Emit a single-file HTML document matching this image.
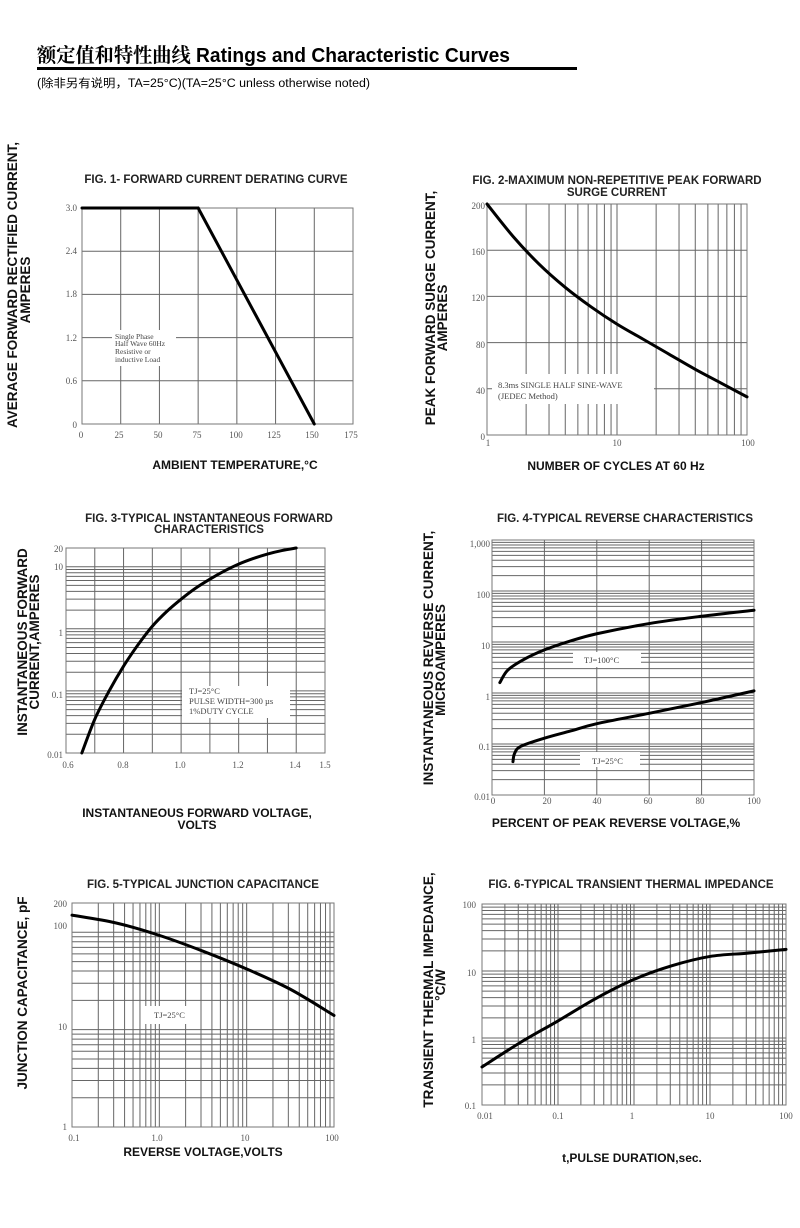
<!DOCTYPE html>
<html><head><meta charset="utf-8">
<style>
html,body{margin:0;padding:0;background:#fff;}
svg{display:block;}
.t{font-family:"Liberation Sans",Arial,sans-serif;font-weight:bold;font-size:11.5px;fill:#222;}
.ax{font-family:"Liberation Sans",Arial,sans-serif;font-weight:bold;font-size:13.5px;fill:#111;}
.xt{font-family:"Liberation Sans",Arial,sans-serif;font-weight:bold;font-size:12px;fill:#111;}
.tk{font-family:"Liberation Serif",serif;font-size:9px;fill:#555;}
.lb{font-family:"Liberation Serif",serif;font-size:8.5px;fill:#444;}
</style></head><body>
<svg id="s" width="800" height="1228" viewBox="0 0 800 1228" xmlns="http://www.w3.org/2000/svg">
<rect width="800" height="1228" fill="#fff"/>
<text x="37" y="62" textLength="473" lengthAdjust="spacingAndGlyphs" style="font-family:'Liberation Sans','Noto Serif CJK SC',serif;font-weight:bold;font-size:20px;fill:#000"><tspan style="font-family:'Noto Serif CJK SC',serif">额定值和特性曲线</tspan> Ratings and Characteristic Curves</text>
<rect x="37" y="67" width="540" height="3" fill="#000"/>
<text x="37" y="87" textLength="333" lengthAdjust="spacingAndGlyphs" style="font-family:'Liberation Sans','Noto Sans CJK SC',sans-serif;font-size:11.5px;fill:#000">(除非另有说明，TA=25°C)(TA=25°C  unless otherwise noted)</text>
<g id="grid"></g>
<g id="boxes" fill="#fff">
<rect x="112" y="330" width="64" height="36"/>
<rect x="492" y="374" width="162" height="30"/>
<rect x="182" y="686" width="108" height="32"/>
<rect x="573" y="652" width="68" height="15"/>
<rect x="580" y="752" width="60" height="15"/>
<rect x="143" y="1006" width="56" height="18"/>
</g>
<g id="frames" fill="none" stroke="#777" stroke-width="1"></g>
<g id="curves" fill="none" stroke="#000" stroke-width="3" stroke-linejoin="round" stroke-linecap="round"></g>

<!-- Fig1 -->
<text class="t" x="216" y="183" text-anchor="middle">FIG. 1- FORWARD CURRENT DERATING CURVE</text>
<g class="tk" text-anchor="end">
<text x="77" y="211">3.0</text><text x="77" y="254">2.4</text><text x="77" y="297">1.8</text><text x="77" y="341">1.2</text><text x="77" y="384">0.6</text><text x="77" y="428">0</text></g>
<g class="tk" text-anchor="middle">
<text x="81" y="438">0</text><text x="119" y="438">25</text><text x="158" y="438">50</text><text x="197" y="438">75</text><text x="236" y="438">100</text><text x="274" y="438">125</text><text x="312" y="438">150</text><text x="351" y="438">175</text></g>
<g class="lb"><text x="115" y="339" font-size="7.5">Single Phase</text><text x="115" y="346" font-size="7.5">Half Wave 60Hz</text><text x="115" y="354" font-size="7.5">Resistive or</text><text x="115" y="362" font-size="7.5">inductive Load</text></g>
<text class="xt" x="235" y="469" text-anchor="middle">AMBIENT TEMPERATURE,°C</text>
<text class="ax" transform="translate(17,285) rotate(-90)" text-anchor="middle">AVERAGE FORWARD RECTIFIED CURRENT,</text>
<text class="ax" transform="translate(30,290) rotate(-90)" text-anchor="middle">AMPERES</text>

<!-- Fig2 -->
<text class="t" x="617" y="184" text-anchor="middle">FIG. 2-MAXIMUM NON-REPETITIVE PEAK FORWARD</text>
<text class="t" x="617" y="196" text-anchor="middle">SURGE CURRENT</text>
<g class="tk" text-anchor="end">
<text x="485" y="209">200</text><text x="485" y="255">160</text><text x="485" y="301">120</text><text x="485" y="348">80</text><text x="485" y="394">40</text><text x="485" y="440">0</text></g>
<g class="tk" text-anchor="middle"><text x="488" y="446">1</text><text x="617" y="446">10</text><text x="748" y="446">100</text></g>
<g class="lb"><text x="498" y="388">8.3ms SINGLE HALF SINE-WAVE</text><text x="498" y="399">(JEDEC Method)</text></g>
<text class="xt" x="616" y="470" text-anchor="middle">NUMBER OF CYCLES AT 60 Hz</text>
<text class="ax" transform="translate(435,308) rotate(-90)" text-anchor="middle">PEAK  FORWARD SURGE CURRENT,</text>
<text class="ax" transform="translate(447,318) rotate(-90)" text-anchor="middle">AMPERES</text>

<!-- Fig3 -->
<text class="t" x="209" y="522" text-anchor="middle">FIG. 3-TYPICAL INSTANTANEOUS FORWARD</text>
<text class="t" x="209" y="533" text-anchor="middle">CHARACTERISTICS</text>
<g class="tk" text-anchor="end">
<text x="63" y="552">20</text><text x="63" y="570">10</text><text x="63" y="636">1</text><text x="63" y="698">0.1</text><text x="63" y="758">0.01</text></g>
<g class="tk" text-anchor="middle">
<text x="68" y="768">0.6</text><text x="123" y="768">0.8</text><text x="180" y="768">1.0</text><text x="238" y="768">1.2</text><text x="295" y="768">1.4</text><text x="325" y="768">1.5</text></g>
<g class="lb"><text x="189" y="694">TJ=25°C</text><text x="189" y="704">PULSE WIDTH=300 µs</text><text x="189" y="714">1%DUTY CYCLE</text></g>
<text class="xt" x="197" y="817" text-anchor="middle">INSTANTANEOUS FORWARD VOLTAGE,</text>
<text class="xt" x="197" y="829" text-anchor="middle">VOLTS</text>
<text class="ax" transform="translate(27,642) rotate(-90)" text-anchor="middle">INSTANTANEOUS FORWARD</text>
<text class="ax" transform="translate(39,642) rotate(-90)" text-anchor="middle">CURRENT,AMPERES</text>

<!-- Fig4 -->
<text class="t" x="625" y="522" text-anchor="middle">FIG. 4-TYPICAL REVERSE CHARACTERISTICS</text>
<g class="tk" text-anchor="end">
<text x="490" y="547">1,000</text><text x="490" y="598">100</text><text x="490" y="649">10</text><text x="490" y="700">1</text><text x="490" y="750">0.1</text><text x="490" y="800">0.01</text></g>
<g class="tk" text-anchor="middle">
<text x="493" y="804">0</text><text x="547" y="804">20</text><text x="597" y="804">40</text><text x="648" y="804">60</text><text x="700" y="804">80</text><text x="754" y="804">100</text></g>
<g class="lb"><text x="584" y="663">TJ=100°C</text><text x="592" y="764">TJ=25°C</text></g>
<text class="xt" x="616" y="827" text-anchor="middle">PERCENT OF PEAK REVERSE VOLTAGE,%</text>
<text class="ax" transform="translate(433,658) rotate(-90)" text-anchor="middle">INSTANTANEOUS REVERSE CURRENT,</text>
<text class="ax" transform="translate(445,660) rotate(-90)" text-anchor="middle">MICROAMPERES</text>

<!-- Fig5 -->
<text class="t" x="203" y="888" text-anchor="middle">FIG. 5-TYPICAL JUNCTION CAPACITANCE</text>
<g class="tk" text-anchor="end">
<text x="67" y="907">200</text><text x="67" y="929">100</text><text x="67" y="1030">10</text><text x="67" y="1130">1</text></g>
<g class="tk" text-anchor="middle">
<text x="74" y="1141">0.1</text><text x="157" y="1141">1.0</text><text x="245" y="1141">10</text><text x="332" y="1141">100</text></g>
<text class="lb" x="154" y="1018">TJ=25°C</text>
<text class="xt" x="203" y="1156" text-anchor="middle">REVERSE VOLTAGE,VOLTS</text>
<text class="ax" transform="translate(27,993) rotate(-90)" text-anchor="middle">JUNCTION CAPACITANCE, pF</text>

<!-- Fig6 -->
<text class="t" x="631" y="888" text-anchor="middle">FIG. 6-TYPICAL TRANSIENT THERMAL IMPEDANCE</text>
<g class="tk" text-anchor="end">
<text x="476" y="908">100</text><text x="476" y="976">10</text><text x="476" y="1043">1</text><text x="476" y="1109">0.1</text></g>
<g class="tk" text-anchor="middle">
<text x="485" y="1119">0.01</text><text x="558" y="1119">0.1</text><text x="632" y="1119">1</text><text x="710" y="1119">10</text><text x="786" y="1119">100</text></g>
<text class="xt" x="632" y="1162" text-anchor="middle">t,PULSE DURATION,sec.</text>
<text class="ax" transform="translate(433,990) rotate(-90)" text-anchor="middle">TRANSIENT THERMAL IMPEDANCE,</text>
<text class="ax" transform="translate(445,985) rotate(-90)" text-anchor="middle">°C/W</text>
</svg>
<script>
(function(){
var NS="http://www.w3.org/2000/svg";
var G=document.getElementById('grid'),F=document.getElementById('frames'),C=document.getElementById('curves');
function el(p,n,a){var e=document.createElementNS(NS,n);for(var k in a)e.setAttribute(k,a[k]);p.appendChild(e);return e;}
function L(p,x1,y1,x2,y2){el(G,'line',{x1:x1,y1:y1,x2:x2,y2:y2,stroke:'#666','stroke-width':1});}
function logs(a,b){var r=[];for(var d=a;d<b;d++)for(var m=1;m<10;m++)r.push(d+Math.log10(m));r.push(b);return r;}
function plot(P){
  var fx=function(v){return P.lx?Math.log10(v):v;},fy=function(v){return P.ly?Math.log10(v):v;};
  var X=function(v){return P.x0+(fx(v)-P.ax)/(P.bx-P.ax)*(P.x1-P.x0);};
  var Y=function(v){return P.y1-(fy(v)-P.ay)/(P.by-P.ay)*(P.y1-P.y0);};
  P.gx.forEach(function(g){if(g>=P.ax-1e-9&&g<=P.bx+1e-9){var x=P.x0+(g-P.ax)/(P.bx-P.ax)*(P.x1-P.x0);L(G,x,P.y0,x,P.y1);}});
  P.gy.forEach(function(g){if(g>=P.ay-1e-9&&g<=P.by+1e-9){var y=P.y1-(g-P.ay)/(P.by-P.ay)*(P.y1-P.y0);L(G,P.x0,y,P.x1,y);}});
  el(F,'rect',{x:P.x0,y:P.y0,width:P.x1-P.x0,height:P.y1-P.y0});
  P.curves.forEach(function(c){
    var pts=c.map(function(p){return [X(p[0]),Y(p[1])];});
    var d='M'+pts[0][0]+','+pts[0][1];
    for(var i=0;i<pts.length-1;i++){
      var p0=pts[i-1]||pts[i],p1=pts[i],p2=pts[i+1],p3=pts[i+2]||p2;
      d+=' C'+(p1[0]+(p2[0]-p0[0])/6)+','+(p1[1]+(p2[1]-p0[1])/6)+' '+(p2[0]-(p3[0]-p1[0])/6)+','+(p2[1]-(p3[1]-p1[1])/6)+' '+p2[0]+','+p2[1];
    }
    el(C,'path',{d:d});
  });
}
function lin(a,b,s){var r=[];for(var v=a;v<=b+1e-9;v+=s)r.push(v);return r;}
plot({x0:82,x1:353,y0:208,y1:424,ax:0,bx:175,ay:0,by:3,gx:lin(0,175,25),gy:lin(0,3,0.6),
 curves:[[[0,3],[75,3]],[[75,3],[150,0]]]});
plot({x0:487,x1:747,y0:204,y1:435,lx:1,ax:0,bx:2,ay:0,by:200,gx:logs(0,2),gy:lin(0,200,40),
 curves:[[[1,200],[1.585,172],[2.512,148],[3.981,128],[6.31,111],[10,96],[15.85,83],[25.12,70],[39.81,57],[63.1,45],[100,33]]]});
plot({x0:66,x1:325,y0:548,y1:753,ly:1,ax:0.6,bx:1.5,ay:-2,by:Math.log10(20),gx:lin(0.6,1.5,0.1),gy:logs(-2,2),
 curves:[[[0.655,0.01],[0.7,0.035],[0.75,0.1],[0.8,0.25],[0.85,0.55],[0.9,1.1],[0.95,1.9],[1.0,3],[1.05,4.5],[1.1,6.3],[1.15,8.5],[1.2,11],[1.25,13.5],[1.3,16],[1.35,18.2],[1.4,20]]]});
plot({x0:492,x1:754,y0:540,y1:795,ly:1,ax:0,bx:100,ay:-2,by:3,gx:lin(0,100,20),gy:logs(-2,3),
 curves:[[[3,1.6],[6,2.8],[12,4.5],[20,7],[30,10.5],[40,14.5],[60,23],[80,32],[100,42]],
         [[8,0.045],[8.6,0.065],[11,0.09],[20,0.13],[30,0.18],[40,0.25],[60,0.4],[80,0.65],[100,1.1]]]});
plot({x0:72,x1:334,y0:903,y1:1127,lx:1,ly:1,ax:-1,bx:2,ay:0,by:Math.log10(200),gx:logs(-1,2),gy:logs(0,3),
 curves:[[[0.1,150],[0.316,125],[1,93],[3.16,64],[10,42],[31.6,26],[100,14]]]});
plot({x0:482,x1:786,y0:904,y1:1105,lx:1,ly:1,ax:-2,bx:2,ay:-1,by:2,gx:logs(-2,2),gy:logs(-1,2),
 curves:[[[0.01,0.37],[0.0316,0.85],[0.1,1.8],[0.316,3.9],[1,7.5],[3.16,12],[10,16.5],[31.6,18.5],[100,21]]]});
})();
</script>
</body></html>
